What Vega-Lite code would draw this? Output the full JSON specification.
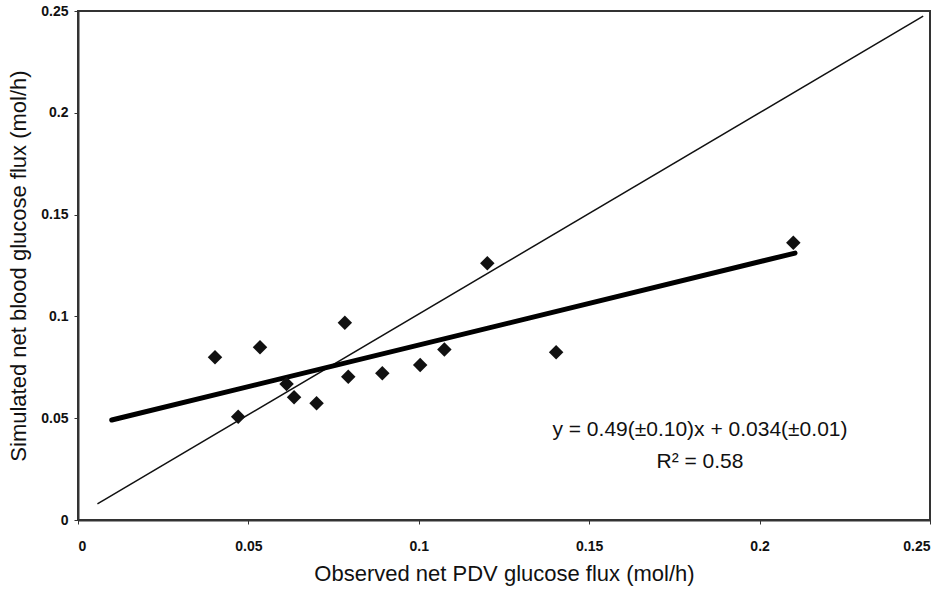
{
  "$schema": "https://vega.github.io/schema/vega-lite/v6.json",
  "autosize": {"type": "none"},
  "width": 852,
  "height": 509,
  "padding": {"left": 78, "top": 11, "right": 20, "bottom": 72},
  "background": "white",
  "config": {
    "font": "Liberation Sans",
    "view": {"stroke": "#333", "strokeWidth": 2},
    "axis": {
      "grid": false,
      "domainColor": "#333",
      "domainWidth": 2,
      "tickColor": "#333",
      "tickSize": 4,
      "labelFont": "Liberation Sans",
      "labelFontSize": 14,
      "labelColor": "#111",
      "labelFontWeight": "bold",
      "titleFont": "Liberation Sans",
      "titleFontSize": 22,
      "titleFontWeight": "normal",
      "titleColor": "#111"
    }
  },
  "datasets": {
    "points": [
      {"observed": 0.0402, "simulated": 0.0799},
      {"observed": 0.0534, "simulated": 0.0848},
      {"observed": 0.0470, "simulated": 0.0507},
      {"observed": 0.0612, "simulated": 0.0668},
      {"observed": 0.0634, "simulated": 0.0603},
      {"observed": 0.0700, "simulated": 0.0573},
      {"observed": 0.0783, "simulated": 0.0969},
      {"observed": 0.0793, "simulated": 0.0704},
      {"observed": 0.0893, "simulated": 0.0721},
      {"observed": 0.1004, "simulated": 0.0761},
      {"observed": 0.1075, "simulated": 0.0838},
      {"observed": 0.1201, "simulated": 0.1261},
      {"observed": 0.1403, "simulated": 0.0824},
      {"observed": 0.2099, "simulated": 0.1362}
    ],
    "regression": [
      {"observed": 0.0099, "simulated": 0.0491},
      {"observed": 0.2104, "simulated": 0.1311}
    ],
    "identity": [
      {"observed": 0.0057, "simulated": 0.0079},
      {"observed": 0.2480, "simulated": 0.2475}
    ],
    "labels": [
      {"observed": 0.1825, "simulated": 0.0442, "text": "y = 0.49(±0.10)x + 0.034(±0.01)"},
      {"observed": 0.1825, "simulated": 0.0285, "text": "R² = 0.58"}
    ]
  },
  "encoding": {
    "x": {
      "field": "observed", "type": "quantitative",
      "scale": {"domain": [0, 0.25], "nice": false, "zero": true},
      "axis": {"values": [0, 0.05, 0.1, 0.15, 0.2, 0.25], "format": "~g", "labelPadding": 15, "title": "Observed net PDV glucose flux (mol/h)", "titlePadding": 10}
    },
    "y": {
      "field": "simulated", "type": "quantitative",
      "scale": {"domain": [0, 0.25], "nice": false, "zero": true},
      "axis": {"values": [0, 0.05, 0.1, 0.15, 0.2, 0.25], "format": "~g", "labelPadding": 6, "title": "Simulated net blood glucose flux (mol/h)", "titlePadding": 10}
    }
  },
  "layer": [
    {
      "data": {"name": "identity"},
      "mark": {"type": "line", "color": "#111", "strokeWidth": 1.5}
    },
    {
      "data": {"name": "regression"},
      "mark": {"type": "line", "color": "#000", "strokeWidth": 5, "strokeCap": "round"}
    },
    {
      "data": {"name": "points"},
      "mark": {"type": "point", "shape": "diamond", "filled": true, "color": "#111", "size": 210, "opacity": 1}
    },
    {
      "data": {"name": "labels"},
      "mark": {"type": "text", "font": "Liberation Sans", "fontSize": 21, "color": "#111", "align": "center", "baseline": "middle"},
      "encoding": {"text": {"field": "text"}}
    }
  ]
}
